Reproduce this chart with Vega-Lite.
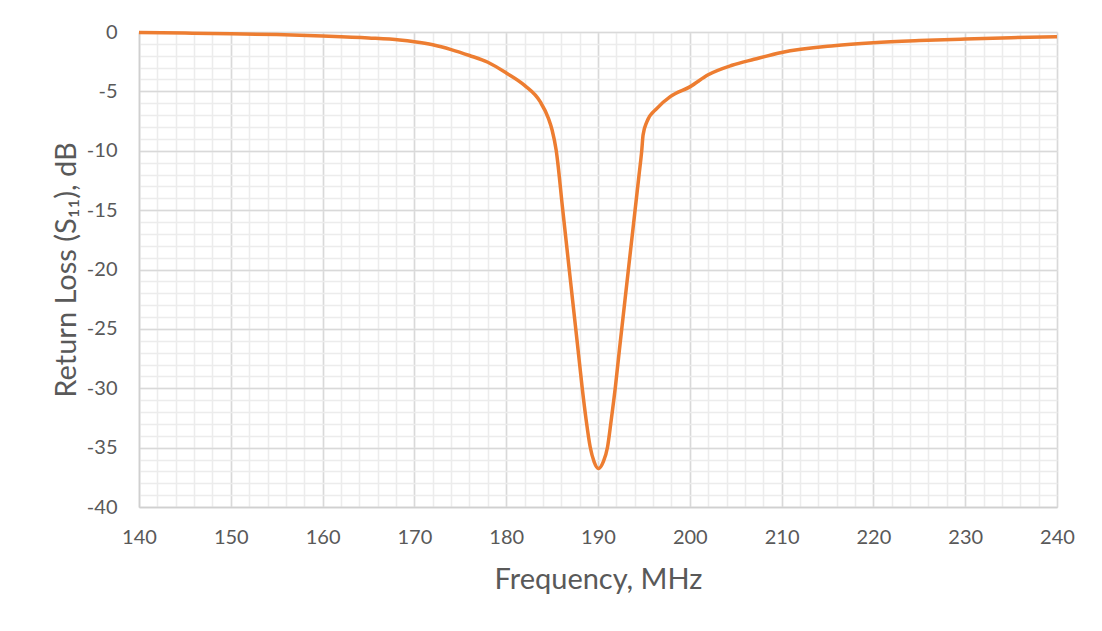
{
  "$schema": "https://vega.github.io/schema/vega-lite/v6.json",
  "width": 918,
  "height": 475,
  "autosize": {"type": "none"},
  "padding": {"left": 139, "top": 32, "right": 45, "bottom": 124},
  "background": "white",
  "config": {
    "view": {"stroke": null},
    "font": "Lato",
    "axis": {
      "labelFont": "Lato",
      "titleFont": "Lato",
      "labelColor": "#595959",
      "titleColor": "#595959",
      "labelFontSize": 20,
      "titleFontSize": 29,
      "titleFontWeight": "normal",
      "labelFlush": false,
      "ticks": false
    }
  },
  "data": {
    "values": [
      {"freq": 140, "s11": -0.05},
      {"freq": 145, "s11": -0.09},
      {"freq": 150, "s11": -0.14},
      {"freq": 155, "s11": -0.22},
      {"freq": 160, "s11": -0.34},
      {"freq": 165, "s11": -0.5},
      {"freq": 168.4, "s11": -0.67},
      {"freq": 170, "s11": -0.82},
      {"freq": 172, "s11": -1.08},
      {"freq": 174, "s11": -1.48},
      {"freq": 176, "s11": -1.98},
      {"freq": 178, "s11": -2.55},
      {"freq": 180, "s11": -3.45},
      {"freq": 182, "s11": -4.5},
      {"freq": 183.7, "s11": -5.87},
      {"freq": 184.6, "s11": -7.27},
      {"freq": 185.0, "s11": -8.25},
      {"freq": 185.44, "s11": -9.94},
      {"freq": 186.16, "s11": -14.99},
      {"freq": 186.85, "s11": -19.87},
      {"freq": 187.23, "s11": -22.57},
      {"freq": 187.83, "s11": -26.78},
      {"freq": 188.28, "s11": -29.98},
      {"freq": 188.71, "s11": -32.67},
      {"freq": 189.15, "s11": -34.95},
      {"freq": 189.58, "s11": -36.2},
      {"freq": 190.05, "s11": -36.76},
      {"freq": 190.57, "s11": -36.2},
      {"freq": 191.04, "s11": -34.95},
      {"freq": 191.44, "s11": -32.67},
      {"freq": 191.88, "s11": -29.98},
      {"freq": 192.33, "s11": -26.78},
      {"freq": 192.94, "s11": -22.57},
      {"freq": 193.33, "s11": -19.87},
      {"freq": 194.04, "s11": -14.99},
      {"freq": 194.47, "s11": -12.04},
      {"freq": 194.77, "s11": -9.94},
      {"freq": 194.91, "s11": -8.67},
      {"freq": 195.33, "s11": -7.55},
      {"freq": 196.42, "s11": -6.43},
      {"freq": 197.87, "s11": -5.44},
      {"freq": 200.05, "s11": -4.6},
      {"freq": 202, "s11": -3.6},
      {"freq": 204.6, "s11": -2.8},
      {"freq": 207, "s11": -2.3},
      {"freq": 210, "s11": -1.72},
      {"freq": 215.7, "s11": -1.15},
      {"freq": 220, "s11": -0.9},
      {"freq": 225, "s11": -0.72},
      {"freq": 230, "s11": -0.59},
      {"freq": 235, "s11": -0.48},
      {"freq": 240, "s11": -0.39}
    ]
  },
  "layer": [
    {
      "mark": {"type": "line", "strokeOpacity": 0},
      "encoding": {
        "x": {
          "field": "freq", "type": "quantitative",
          "scale": {"domain": [140, 240], "nice": false, "zero": false},
          "axis": {
            "orient": "bottom", "labels": false, "domain": false, "title": null,
            "grid": true, "gridColor": "#ececec", "gridWidth": 1.5,
            "values": [140,142,144,146,148,150,152,154,156,158,160,162,164,166,168,170,172,174,176,178,180,182,184,186,188,190,192,194,196,198,200,202,204,206,208,210,212,214,216,218,220,222,224,226,228,230,232,234,236,238,240]
          }
        },
        "y": {
          "field": "s11", "type": "quantitative",
          "scale": {"domain": [-40, 0], "nice": false},
          "axis": {
            "orient": "left", "labels": false, "domain": false, "title": null,
            "grid": true, "gridColor": "#ececec", "gridWidth": 1.5,
            "values": [-40,-39,-38,-37,-36,-35,-34,-33,-32,-31,-30,-29,-28,-27,-26,-25,-24,-23,-22,-21,-20,-19,-18,-17,-16,-15,-14,-13,-12,-11,-10,-9,-8,-7,-6,-5,-4,-3,-2,-1,0]
          }
        }
      }
    },
    {
      "mark": {"type": "line", "color": "#ED7D31", "strokeWidth": 3.5, "interpolate": "monotone"},
      "encoding": {
        "x": {
          "field": "freq", "type": "quantitative",
          "scale": {"domain": [140, 240], "nice": false, "zero": false},
          "axis": {
            "orient": "bottom", "title": "Frequency, MHz",
            "grid": true, "gridColor": "#d9d9d9", "gridWidth": 1.5,
            "domain": true, "domainColor": "#d0d0d0", "domainWidth": 1.5,
            "values": [140,150,160,170,180,190,200,210,220,230,240],
            "labelExpr": "toString(datum.value)",
            "labelPadding": 20, "titlePadding": 18
          }
        },
        "y": {
          "field": "s11", "type": "quantitative",
          "scale": {"domain": [-40, 0], "nice": false},
          "axis": {
            "orient": "left", "title": "Return Loss (S₁₁), dB",
            "grid": true, "gridColor": "#d9d9d9", "gridWidth": 1.5,
            "domain": true, "domainColor": "#d0d0d0", "domainWidth": 1.5,
            "values": [-40,-35,-30,-25,-20,-15,-10,-5,0],
            "labelExpr": "toString(datum.value)",
            "labelPadding": 22, "titlePadding": 5
          }
        }
      }
    }
  ],
  "resolve": {"axis": {"x": "independent", "y": "independent"}}
}
